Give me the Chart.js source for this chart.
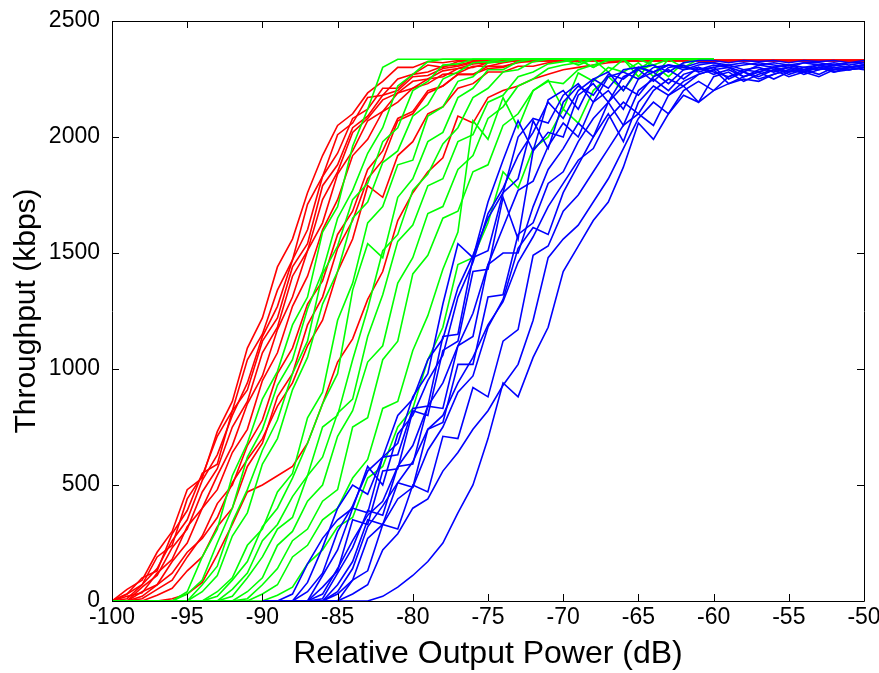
<!DOCTYPE html>
<html><head><meta charset="utf-8">
<script src="https://cdn.jsdelivr.net/npm/chart.js@4.4.1/dist/chart.umd.min.js"></script>
<style>html,body{margin:0;padding:0;background:#fff;}</style>
</head><body>
<canvas id="c" width="879" height="673"></canvas>
<script>
// x values (dB), 1 dB steps
const powerDb = [-100,-99,-98,-97,-96,-95,-94,-93,-92,-91,-90,-89,-88,-87,-86,-85,-84,-83,-82,-81,
  -80,-79,-78,-77,-76,-75,-74,-73,-72,-71,-70,-69,-68,-67,-66,-65,-64,-63,-62,-61,
  -60,-59,-58,-57,-56,-55,-54,-53,-52,-51,-50];

// red curves: -100 .. -50
const redSeries = [
 [0,50,90,210,300,480,530,730,860,1090, 1220,1440,1560,1760,1920,2050,2100,2190,2240,2300,
  2300,2325,2320,2330,2330,2330,2330,2330,2330,2330, 2330,2330,2330,2330,2330,2330,2330,2330,2330,2330,
  2330,2330,2330,2330,2330,2330,2330,2330,2330,2330,2330],
 [0,30,70,190,240,440,540,710,820,1040, 1150,1340,1470,1710,1830,2010,2060,2170,2180,2250,
  2270,2310,2300,2325,2330,2325,2330,2330,2330,2330, 2330,2330,2330,2330,2330,2330,2330,2330,2330,2330,
  2325,2330,2330,2330,2330,2330,2330,2330,2330,2330,2330],
 [0,10,70,140,260,350,520,630,800,940, 1140,1270,1470,1600,1830,1930,2080,2120,2210,2210,
  2270,2280,2305,2310,2325,2330,2330,2330,2330,2330, 2330,2330,2330,2330,2330,2330,2330,2330,2330,2330,
  2330,2330,2330,2330,2330,2330,2330,2330,2330,2330,2330],
 [0,30,100,130,290,390,550,590,820,910, 1120,1220,1440,1540,1790,1880,2040,2090,2180,2200,
  2260,2265,2295,2305,2320,2325,2330,2330,2330,2330, 2330,2330,2330,2330,2330,2330,2330,2330,2330,2330,
  2330,2330,2330,2330,2330,2330,2330,2330,2330,2330,2330],
 [0,0,60,110,230,310,470,570,750,860, 1070,1180,1400,1510,1730,1850,2020,2080,2160,2190,
  2240,2250,2285,2295,2315,2320,2330,2330,2330,2330, 2330,2330,2330,2330,2330,2330,2330,2330,2330,2330,
  2330,2330,2330,2330,2330,2330,2330,2330,2330,2330,2330],
 [0,20,35,120,180,320,400,540,670,850, 970,1170,1310,1510,1630,1840,1940,2070,2110,2190,
  2210,2250,2260,2295,2300,2320,2325,2330,2330,2330, 2330,2330,2330,2330,2330,2330,2330,2330,2330,2330,
  2330,2330,2330,2330,2330,2330,2330,2330,2330,2330,2330],
 [0,0,40,70,170,250,400,480,640,740, 950,1070,1270,1400,1600,1730,1920,1990,2110,2150,
  2210,2230,2270,2275,2305,2305,2320,2330,2330,2330, 2330,2330,2330,2330,2330,2330,2330,2330,2330,2330,
  2330,2330,2330,2330,2330,2330,2330,2330,2330,2330,2330],
 [0,0,10,50,90,190,280,420,500,670, 780,980,1090,1280,1380,1580,1680,1860,1940,2080,
  2110,2200,2220,2270,2270,2305,2305,2320,2330,2330, 2330,2330,2330,2330,2330,2330,2330,2330,2330,2330,
  2330,2330,2330,2330,2330,2330,2330,2330,2330,2330,2330],
 [0,0,0,0,10,30,80,200,330,470, 500,540,580,680,850,1030,1130,1300,1420,1640,
  1760,1850,1910,2090,2060,2170,2200,2220,2250,2270, 2290,2300,2310,2320,2325,2330,2330,2330,2330,2330,
  2330,2330,2330,2330,2330,2330,2330,2330,2330,2330,2330],
 [0,0,20,70,120,210,270,360,510,610, 700,840,940,1100,1210,1420,1560,1790,1740,1920,
  1980,2100,2130,2210,2230,2280,2280,2305,2305,2320, 2330,2330,2330,2330,2330,2330,2330,2330,2330,2330,
  2330,2330,2330,2330,2330,2330,2330,2330,2330,2330,2330],
 [0,0,0,25,55,130,190,320,400,580, 680,880,980,1190,1310,1520,1640,1820,1900,2070,
  2100,2190,2220,2270,2270,2295,2300,2325,2325,2330, 2330,2330,2330,2330,2330,2330,2330,2330,2330,2330,
  2330,2330,2330,2330,2330,2330,2330,2330,2330,2330,2330]
];

// green curves: -100 .. -60
const greenSeries = [
 [0,0,0,0,0,40,190,310,540,680, 870,990,1190,1310,1590,1700,1960,2120,2300,2335,
  2335,2335,2335,2335,2335,2335,2335,2335,2335,2335, 2335,2335,2335,2335,2335,2335,2335,2335,2335,2335, 2335],
 [0,0,0,0,0,30,90,250,400,620, 740,930,1040,1260,1420,1650,1770,1930,2040,2220,
  2270,2325,2335,2335,2335,2335,2335,2335,2335,2335, 2335,2335,2335,2335,2335,2335,2335,2335,2335,2335, 2335],
 [0,0,0,0,0,0,70,150,340,480, 650,780,980,1120,1410,1530,1730,1800,1980,2040,
  2200,2240,2310,2315,2335,2335,2335,2335,2335,2335, 2335,2335,2335,2335,2335,2335,2335,2335,2335,2335, 2335],
 [0,0,0,0,0,0,40,110,280,380, 590,700,910,1050,1280,1420,1650,1720,1890,1940,
  2090,2140,2250,2280,2320,2325,2335,2335,2335,2335, 2335,2335,2335,2335,2335,2335,2335,2335,2335,2335, 2335],
 [0,0,0,0,0,0,0,40,100,240, 310,470,550,790,900,1210,1370,1630,1700,1880,
  1900,2090,2130,2240,2260,2320,2325,2335,2335,2335, 2335,2335,2335,2335,2335,2335,2335,2335,2335,2335, 2335],
 [0,0,0,0,0,0,0,20,90,170, 320,400,530,680,850,980,1340,1540,1480,1740,
  1820,1980,2020,2170,2210,2290,2290,2325,2335,2335, 2335,2310,2335,2335,2335,2335,2335,2335,2335,2335, 2335],
 [0,0,0,0,0,0,0,0,50,120, 260,330,450,540,750,800,1040,1260,1510,1580,
  1770,1840,1970,2040,2170,2210,2280,2290,2325,2335, 2335,2335,2300,2335,2335,2335,2335,2335,2335,2335, 2335],
 [0,0,0,0,0,0,0,0,20,100, 190,310,360,540,620,810,870,1140,1320,1550,
  1620,1790,1820,1980,2010,2150,2180,2260,2280,2315, 2325,2335,2300,2335,2335,2290,2335,2335,2335,2335, 2335],
 [0,0,0,0,0,0,0,0,0,40, 100,240,300,430,500,710,820,1030,1100,1370,
  1480,1670,1700,1860,1920,2080,2130,2220,2250,2295, 2310,2320,2335,2280,2335,2335,2310,2335,2335,2335, 2335],
 [0,0,0,0,0,0,0,0,0,10, 70,140,260,310,430,480,750,790,1040,1120,
  1410,1490,1650,1680,1850,1880,2050,2100,2200,2240, 2230,2290,2310,2330,2335,2260,2335,2335,2300,2335, 2335],
 [0,0,0,0,0,0,0,0,0,0, 30,70,190,240,350,400,530,610,830,860,
  1080,1230,1430,1590,2070,1990,2170,2040,2200,2245, 2120,2276,2240,2300,2280,2320,2260,2335,2335,2335, 2335],
 [0,0,0,0,0,0,0,0,0,0, 0,25,60,160,220,320,360,530,580,750,
  830,1040,1180,1450,1480,1630,1850,1780,1950,2000, 2120,2060,2200,2260,2200,2290,2310,2260,2320,2335, 2335]
];

// blue curves: -90 .. -50
const blueSeries = [
 [0,0,0,80,230,400,500,460,620,680, 880,980,1280,1540,1480,1720,1900,2070,1940,2160,
  2200,2120,2250,2280,2200,2300,2310,2280,2320,2330, 2330,2320,2330,2325,2330,2320,2330,2325,2330,2320, 2330],
 [0,0,0,40,120,300,410,560,620,800, 870,1040,1130,1350,1490,1650,1760,2000,2080,2060,
  2180,2230,2150,2260,2280,2250,2300,2310,2290,2310, 2320,2300,2310,2320,2310,2300,2320,2310,2320,2310, 2320],
 [0,0,0,0,110,220,400,380,620,630, 830,840,1140,1150,1480,1510,1760,1820,2070,1950,
  2150,2220,2180,2270,2250,2300,2280,2310,2300,2290, 2310,2300,2280,2310,2300,2310,2290,2300,2310,2300, 2310],
 [0,0,0,0,60,130,350,330,560,570, 820,800,1080,1120,1420,1430,1740,1560,1940,2020,
  2000,2180,2230,2150,2260,2290,2240,2300,2310,2280, 2300,2310,2290,2280,2300,2310,2300,2290,2310,2300, 2310],
 [0,0,0,0,30,140,260,370,430,580, 670,840,940,1100,1240,1450,1610,1770,1810,1960,
  2060,2000,2150,2200,2120,2250,2280,2230,2290,2300, 2280,2260,2290,2300,2280,2300,2290,2310,2300,2290, 2300],
 [0,0,0,0,10,120,230,390,370,580, 590,840,830,1100,1140,1450,1500,1500,1700,1860,
  1950,2060,2000,2150,2220,2180,2260,2290,2250,2300, 2270,2290,2260,2280,2300,2270,2290,2300,2280,2300, 2310],
 [0,0,0,0,0,70,170,350,330,510, 490,740,770,1020,1020,1310,1320,1580,1630,1800,
  1850,1980,2080,2150,2050,2200,2250,2200,2270,2290, 2300,2250,2280,2260,2290,2300,2270,2290,2300,2290, 2300],
 [0,0,0,0,0,30,90,270,330,440, 490,650,750,900,970,1180,1300,1520,1610,1580,
  1760,1880,2000,2100,1980,2150,2220,2180,2240,2270, 2290,2230,2260,2280,2250,2280,2290,2270,2300,2290, 2300],
 [0,0,0,0,0,0,90,130,330,310, 500,470,710,700,920,880,1120,1170,1490,1530,
  1680,1750,1850,1950,2050,2100,2050,2180,2220,2150, 2260,2280,2240,2270,2290,2260,2280,2300,2280,2290, 2300],
 [0,0,0,0,0,0,30,70,220,290, 400,440,560,640,740,820,930,1020,1210,1480,
  1560,1620,1720,1820,1950,2080,2150,2100,2200,2240, 2200,2260,2280,2250,2270,2290,2280,2260,2290,2300, 2290],
 [0,0,30,160,270,350,400,580,500,720, 800,950,1060,1310,1460,1670,1780,1920,2020,2150,
  2080,2200,2250,2210,2290,2300,2280,2310,2300,2320, 2320,2310,2320,2310,2320,2310,2320,2320,2310,2320, 2320],
 [0,0,0,0,0,40,140,320,410,510, 600,740,800,940,1050,1190,1290,1460,1570,1700,
  1800,1900,1950,2080,2150,2100,2200,2250,2220,2270, 2290,2300,2260,2290,2300,2280,2300,2310,2290,2300, 2310],
 [0,0,0,0,0,0,0,0,20,60, 110,170,250,380,500,700,940,880,1050,1180,
  1420,1530,1640,1720,1870,2060,1990,2100,2180,2150, 2200,2230,2250,2240,2270,2290,2280,2300,2290,2300, 2310]
];

const FONT = "'Liberation Sans', Arial, Helvetica, sans-serif";

function mk(vals, xs, color) {
  return {
    data: vals.map((v, i) => ({ x: xs[i], y: v })),
    borderColor: color, borderWidth: 1.6, pointRadius: 0, fill: false, tension: 0
  };
}
const datasets = [];
const xsBlue = powerDb.slice(10);
const xsGreen = powerDb.slice(0, 41);
blueSeries.forEach(s => datasets.push(mk(s, xsBlue, '#0000ff')));
greenSeries.forEach(s => datasets.push(mk(s, xsGreen, '#00ff00')));
redSeries.forEach(s => datasets.push(mk(s, powerDb, '#ff0000')));

const frame = {
  id: 'frame',
  afterDatasetsDraw(chart) {
    const { ctx, chartArea: a, scales: { x, y } } = chart;
    ctx.save();
    ctx.strokeStyle = '#000';
    ctx.lineWidth = 1;
    ctx.beginPath();
    ctx.rect(Math.round(a.left) + 0.5, Math.round(a.top) + 0.5,
      Math.round(a.right - a.left), Math.round(a.bottom - a.top));
    const L = 7;
    x.ticks.forEach(t => {
      const p = Math.round(x.getPixelForValue(t.value)) + 0.5;
      ctx.moveTo(p, a.bottom); ctx.lineTo(p, a.bottom - L);
      ctx.moveTo(p, a.top); ctx.lineTo(p, a.top + L);
    });
    y.ticks.forEach(t => {
      const p = Math.round(y.getPixelForValue(t.value)) + 0.5;
      ctx.moveTo(a.left, p); ctx.lineTo(a.left + L, p);
      ctx.moveTo(a.right, p); ctx.lineTo(a.right - L, p);
    });
    ctx.stroke();
    ctx.restore();
  }
};

function zeroPad(s) { s.paddingLeft = 0; s.paddingRight = 0; s.paddingTop = 0; s.paddingBottom = 0; }

new Chart(document.getElementById('c'), {
  type: 'line',
  data: { datasets },
  options: {
    responsive: false,
    animation: false,
    events: [],
    layout: { padding: { top: 21, right: 15, left: 0, bottom: 0 } },
    plugins: { legend: { display: false }, tooltip: { enabled: false } },
    scales: {
      x: {
        type: 'linear', min: -100, max: -50,
        ticks: { stepSize: 5, color: '#000', font: { family: FONT, size: 23 }, padding: 3,
          maxRotation: 0, autoSkip: false, callback: v => String(v) },
        grid: { display: false, drawTicks: false },
        border: { display: false },
        title: { display: true, text: 'Relative Output Power (dB)', color: '#000',
          font: { family: FONT, size: 32 }, padding: { top: 0, bottom: 0 } },
        afterFit(s) { s.height = 72; zeroPad(s); }
      },
      y: {
        type: 'linear', min: 0, max: 2500,
        ticks: { stepSize: 500, color: '#000', font: { family: FONT, size: 23 }, padding: 12,
          callback: v => String(v) },
        grid: { display: false, drawTicks: false },
        border: { display: false },
        title: { display: true, text: 'Throughput (kbps)', color: '#000',
          font: { family: FONT, size: 30 }, padding: { top: 9, bottom: 0 } },
        afterFit(s) { s.width = 112; zeroPad(s); }
      }
    }
  },
  plugins: [frame]
});
</script>
</body></html>
